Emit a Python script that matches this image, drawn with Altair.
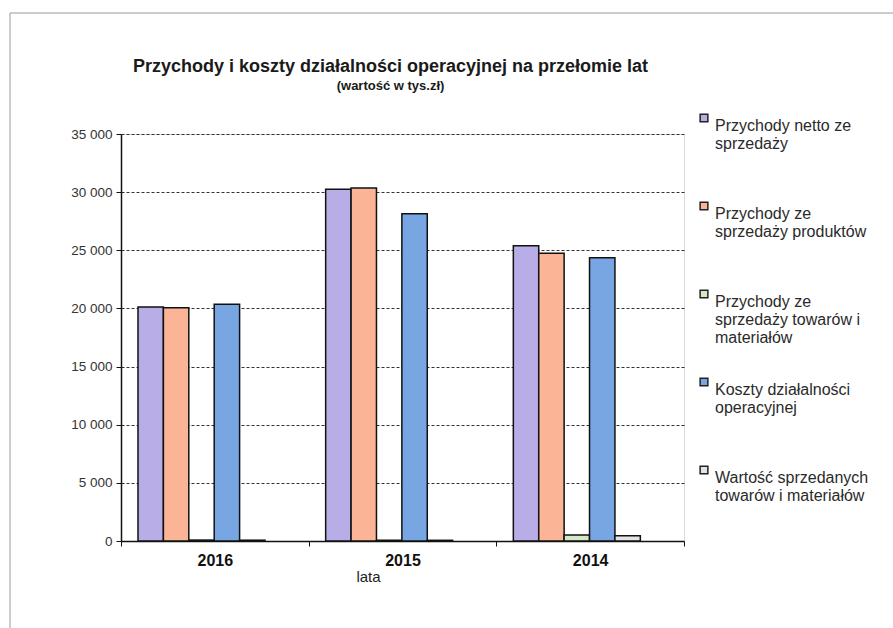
import altair as alt
import pandas as pd

# Years in the order they appear on the category axis
years = ["2016", "2015", "2014"]

series = [
    "Przychody netto ze sprzedaży",
    "Przychody ze sprzedaży produktów",
    "Przychody ze sprzedaży towarów i materiałów",
    "Koszty działalności operacyjnej",
    "Wartość sprzedanych towarów i materiałów",
]

# Wrapped legend text for each series (padded to three lines)
legend_lines = [
    ["Przychody netto ze", "sprzedaży", ""],
    ["Przychody ze", "sprzedaży produktów", ""],
    ["Przychody ze", "sprzedaży towarów i", "materiałów"],
    ["Koszty działalności", "operacyjnej", ""],
    ["Wartość sprzedanych", "towarów i materiałów", ""],
]

# Values in thousands of PLN, per year (2016, 2015, 2014)
netto = [20120, 30250, 25400]
produkty = [20050, 30350, 24750]
towary = [80, 70, 520]
koszty = [20350, 28150, 24350]
wartosc_sprzed = [70, 60, 450]

colors = ["#b8ade6", "#fbb495", "#d6e7c6", "#78a6e3", "#e4e4e4"]

rows = []
for i, rok in enumerate(years):
    for name, vals in zip(series, [netto, produkty, towary, koszty, wartosc_sprzed]):
        rows.append({"rok": rok, "seria": name, "wartosc": vals[i]})
df = pd.DataFrame(rows)

label_map = "{" + ", ".join(
    "'" + s + "': [" + ", ".join("'" + ln + "'" for ln in lines) + "]"
    for s, lines in zip(series, legend_lines)
) + "}"

FONT = "Liberation Sans"

bars = (
    alt.Chart(df)
    .mark_bar(stroke="#111111", strokeWidth=1.5)
    .encode(
        x=alt.X(
            "rok:N",
            sort=years,
            scale=alt.Scale(paddingInner=0, paddingOuter=0),
            axis=alt.Axis(
                title="lata",
                titleFont=FONT,
                titleFontSize=15,
                titleFontWeight="normal",
                titleColor="#222222",
                titleX=247,
                titleY=28,
                titleBaseline="top",
                labelAngle=0,
                labelFont=FONT,
                labelFontSize=16,
                labelFontWeight="bold",
                labelColor="#111111",
                labelPadding=6,
                tickBand="extent",
                tickSize=5,
                tickColor="#111111",
                domainColor="#111111",
                domainWidth=1.5,
                grid=False,
            ),
        ),
        xOffset=alt.XOffset(
            "seria:N",
            sort=series,
            scale=alt.Scale(range=[17, 144], paddingInner=0, paddingOuter=0),
        ),
        y=alt.Y(
            "wartosc:Q",
            scale=alt.Scale(domain=[0, 35000], nice=False),
            axis=alt.Axis(
                title=None,
                values=[0, 5000, 10000, 15000, 20000, 25000, 30000, 35000],
                labelExpr="replace(format(datum.value, ',d'), ',', ' ')",
                labelFont=FONT,
                labelFontSize=13.5,
                labelColor="#333333",
                labelPadding=4,
                tickSize=5,
                tickColor="#111111",
                domainColor="#111111",
                domainWidth=1.5,
                grid=True,
                gridColor="#333333",
                gridDash=[3, 2],
                gridWidth=1,
            ),
        ),
        color=alt.Color(
            "seria:N",
            sort=series,
            scale=alt.Scale(domain=series, range=colors),
            legend=alt.Legend(
                orient="none",
                legendX=575,
                legendY=-24,
                title=None,
                symbolType="square",
                symbolSize=60,
                symbolStrokeColor="#222222",
                symbolStrokeWidth=1.5,
                labelFont=FONT,
                labelFontSize=16,
                labelColor="#2a2a2a",
                labelBaseline="top",
                labelOffset=3,
                labelLimit=300,
                rowPadding=28,
                labelExpr=label_map + "[datum.label]",
            ),
        ),
    )
)

# Thin frame around the chart area (top and left edges)
frame_top = alt.Chart().mark_rule(color="#9a9a9a", strokeWidth=1).encode(
    x=alt.value(-111), x2=alt.value(772), y=alt.value(-121)
)
frame_left = alt.Chart().mark_rule(color="#9a9a9a", strokeWidth=1).encode(
    x=alt.value(-111), y=alt.value(-121), y2=alt.value(494)
)

chart = (
    alt.layer(bars, frame_top, frame_left)
    .properties(
        width=563,
        height=407,
        autosize=alt.AutoSizeParams(type="none"),
        padding={"left": 121, "top": 134, "right": 209, "bottom": 87},
        title=alt.TitleParams(
            text="Przychody i koszty działalności operacyjnej na przełomie lat",
            subtitle="(wartość w tys.zł)",
            font=FONT,
            fontSize=18,
            fontWeight="bold",
            color="#1a1a1a",
            subtitleFont=FONT,
            subtitleFontSize=13,
            subtitleFontWeight="bold",
            subtitleColor="#1a1a1a",
            subtitlePadding=4,
            anchor="middle",
            frame="group",
            dx=-12,
            offset=-80,
        ),
    )
    .configure_view(stroke="#777777", strokeWidth=1)
    .configure(background="white")
)

chart.save("out.html", embed_options={"renderer": "svg", "actions": False})
